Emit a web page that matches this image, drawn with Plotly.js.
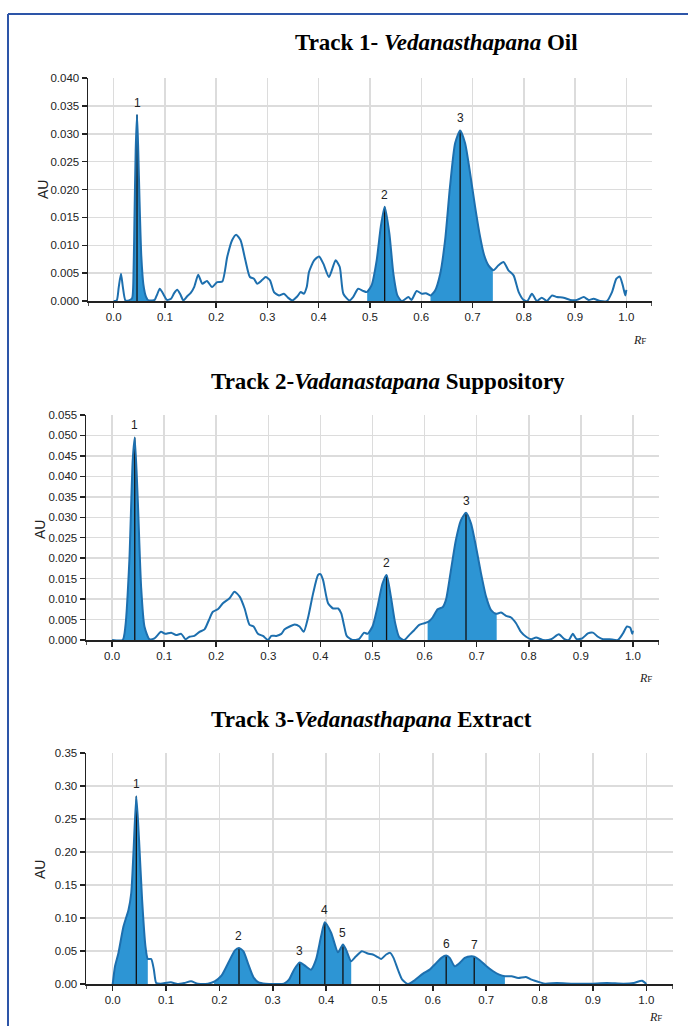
<!DOCTYPE html>
<html><head><meta charset="utf-8">
<script src="https://cdn.plot.ly/plotly-3.0.1.min.js"></script>
<style>html,body{margin:0;padding:0;background:#fff;}#chart{width:688px;height:1026px;}</style>
</head><body><div id="chart"></div>
<script>
// ---------- Track 1: Vedanasthapana Oil ----------
const rf1 = [0.000,0.006,0.010,0.0143,0.018,0.023,0.030,0.036,0.039,0.0405,0.043,0.0456,0.048,0.0505,0.054,0.058,0.063,0.068,0.075,0.080,0.085,0.090,0.096,0.104,0.112,0.118,0.124,0.130,0.136,0.143,0.150,0.157,0.165,0.173,0.182,0.192,0.202,0.212,0.2215,0.231,0.239,0.2476,0.257,0.2658,0.2736,0.280,0.290,0.2964,0.305,0.3127,0.3225,0.332,0.340,0.3485,0.358,0.365,0.371,0.3766,0.381,0.391,0.4007,0.409,0.420,0.433,0.441,0.448,0.460,0.467,0.477,0.487,0.4935,0.503,0.513,0.521,0.5286,0.5378,0.5456,0.5534,0.562,0.575,0.581,0.591,0.601,0.609,0.618,0.627,0.637,0.6465,0.656,0.666,0.6758,0.6855,0.6953,0.705,0.7148,0.7227,0.731,0.741,0.7506,0.7604,0.770,0.780,0.790,0.7995,0.807,0.8158,0.8255,0.835,0.845,0.855,0.8646,0.8776,0.8906,0.9036,0.917,0.9264,0.936,0.949,0.962,0.972,0.9805,0.987,0.993,0.998,1.000];
const au1 = [0,0.0001,0.0025,0.0049,0.0025,0.0001,0.0001,0.0005,0.006,0.014,0.027,0.0334,0.027,0.018,0.008,0.003,0.0008,0.0001,0.0001,0.0002,0.0012,0.0022,0.0014,0.0002,0.0004,0.0014,0.002,0.0012,0.0001,0.0008,0.0014,0.0025,0.0047,0.0031,0.0036,0.0025,0.0034,0.0035,0.0079,0.0109,0.0119,0.0109,0.0073,0.0043,0.004,0.0031,0.0038,0.0043,0.0037,0.0016,0.001,0.0013,0.0006,0.0001,0.0008,0.0016,0.0013,0.0025,0.0052,0.0073,0.008,0.0067,0.0043,0.0073,0.0061,0.0013,0.0001,0.0007,0.0022,0.0018,0.0016,0.0028,0.0073,0.0133,0.0169,0.0121,0.0049,0.001,0,0.0007,0.0002,0.0018,0.0013,0.0014,0.001,0.0019,0.0049,0.0109,0.0205,0.0283,0.0306,0.0283,0.0229,0.0169,0.0115,0.0082,0.0064,0.0055,0.0064,0.007,0.0055,0.0046,0.0016,0.0002,0,0.0013,0,0.0006,0,0.001,0.0007,0.0006,0.0002,0.0002,0.0007,0.0002,0.0004,0,0,0.0016,0.004,0.0044,0.0028,0.001,0.002];
const peaks1 = [0.0456,0.5286,0.6758];
const peakLabels1 = ['1','2','3'];
const fills1 = [[0.034,0.066],[0.4945,0.562],[0.618,0.7396]];

// ---------- Track 2: Vadanastapana Suppository ----------
const rf2 = [0,0.0205,0.0256,0.0333,0.0397,0.0436,0.0494,0.0558,0.0622,0.0718,0.0814,0.094,0.1019,0.1135,0.123,0.1327,0.141,0.1487,0.158,0.168,0.1776,0.186,0.1936,0.203,0.2128,0.2256,0.235,0.245,0.2545,0.264,0.2718,0.280,0.2897,0.2994,0.3058,0.3154,0.325,0.3314,0.341,0.3506,0.360,0.368,0.376,0.386,0.3955,0.400,0.405,0.4147,0.4244,0.434,0.440,0.4455,0.4505,0.4615,0.474,0.484,0.4904,0.500,0.5096,0.5192,0.527,0.5353,0.5436,0.5513,0.561,0.5705,0.580,0.5897,0.5994,0.6077,0.6154,0.625,0.6346,0.641,0.6506,0.660,0.6699,0.6795,0.6891,0.6987,0.7083,0.718,0.7276,0.737,0.7468,0.7564,0.766,0.7756,0.785,0.7949,0.8045,0.814,0.827,0.843,0.8577,0.8686,0.877,0.8846,0.892,0.9026,0.9135,0.923,0.9327,0.9423,0.955,0.9712,0.9808,0.9885,0.9949,0.9987,1.0];
const au2 = [0,0,0.0033,0.0196,0.044,0.0495,0.0342,0.013,0.0033,0.0002,0.0004,0.002,0.0015,0.0018,0.0012,0.0015,0.0002,0.0008,0.001,0.002,0.0026,0.0049,0.0069,0.0075,0.009,0.0102,0.0118,0.0106,0.0077,0.0037,0.0033,0.0015,0.001,0,0.001,0.001,0.0015,0.0026,0.0033,0.0038,0.0033,0.002,0.0053,0.0114,0.0159,0.0161,0.0147,0.009,0.0077,0.0077,0.0065,0.0035,0.001,0,0.0002,0.0018,0.0015,0.0033,0.0081,0.0138,0.0159,0.0106,0.0041,0.0007,0,0.0012,0.0024,0.0037,0.0041,0.0045,0.0055,0.0075,0.008,0.0098,0.0171,0.0244,0.0293,0.0311,0.0285,0.0228,0.0163,0.0106,0.0073,0.0064,0.0067,0.0059,0.0055,0.0041,0.002,0.0008,0.0002,0.0006,0,0.0002,0.0014,0.0002,0,0.0015,0.0002,0.0004,0.0016,0.0018,0.0008,0.0002,0.0002,0,0.0016,0.0033,0.003,0.0015,0.0023];
const peaks2 = [0.0436,0.527,0.6795];
const peakLabels2 = ['1','2','3'];
const fills2 = [[0.0205,0.072],[0.4923,0.558],[0.6058,0.7384]];

// ---------- Track 3: Vedanasthapana Extract ----------
const rf3 = [0,0.0044,0.0108,0.0203,0.0297,0.0348,0.0392,0.0443,0.0494,0.0551,0.0614,0.0658,0.0722,0.0772,0.0816,0.0899,0.1089,0.1215,0.1342,0.1468,0.1595,0.1785,0.1911,0.2038,0.2165,0.2291,0.2367,0.245,0.2544,0.2639,0.2734,0.2861,0.3051,0.3209,0.3304,0.3399,0.3505,0.362,0.3715,0.381,0.3905,0.3975,0.4095,0.4222,0.4315,0.4373,0.4467,0.456,0.467,0.478,0.4875,0.497,0.5031,0.5125,0.520,0.5263,0.5345,0.5426,0.5533,0.5658,0.5815,0.594,0.6065,0.616,0.625,0.6316,0.641,0.6504,0.6598,0.6723,0.6775,0.688,0.7005,0.713,0.7243,0.735,0.7475,0.760,0.7744,0.785,0.8008,0.8102,0.8321,0.8634,0.8947,0.926,0.9574,0.9762,0.992,1.0];
const au3 = [0,0.0268,0.047,0.0874,0.1126,0.1379,0.2035,0.2843,0.2187,0.1278,0.057,0.0379,0.0379,0.0217,0.0015,0.0005,0.0025,0,0.0015,0.004,0.0005,0.0005,0.004,0.0126,0.0318,0.051,0.0545,0.0495,0.0293,0.0101,0.0025,0.0005,0,0.0005,0.0066,0.0217,0.0325,0.0268,0.0217,0.0369,0.0722,0.0935,0.0773,0.048,0.0598,0.052,0.0345,0.042,0.0497,0.0462,0.0447,0.0406,0.038,0.0447,0.0472,0.0396,0.0218,0.0066,0,0.0056,0.0157,0.0218,0.032,0.0396,0.0431,0.0396,0.0269,0.032,0.0396,0.0421,0.0415,0.036,0.0269,0.0193,0.0142,0.0117,0.0117,0.0091,0.0107,0.0066,0.0025,0.0005,0.0015,0.0005,0.0005,0.0015,0.0005,0.0015,0.005,0];
const peaks3 = [0.0443,0.2367,0.3505,0.3975,0.4315,0.625,0.6775];
const peakLabels3 = ['1','2','3','4','5','6','7'];
const fills3 = [[0,0.0658],[0.19,0.2766],[0.3228,0.447],[0.553,0.735]];

// ---------- titles / ticks ----------
const titles = ['<b>Track 1- <i>Vedanasthapana</i> Oil</b>','<b>Track 2-<i>Vadanastapana</i> Suppository</b>','<b>Track 3-<i>Vedanasthapana</i> Extract</b>'];
const xTicks = [0,0.1,0.2,0.3,0.4,0.5,0.6,0.7,0.8,0.9,1.0];

// ---------- helpers ----------
function interp(xs, ys, x){
  if (x <= xs[0]) return ys[0];
  for (let i=1;i<xs.length;i++){
    if (x <= xs[i]){ const t=(x-xs[i-1])/(xs[i]-xs[i-1]); return ys[i-1]+t*(ys[i]-ys[i-1]); }
  }
  return ys[ys.length-1];
}
function segment(xs, ys, a, b){
  const sx=[a], sy=[interp(xs,ys,a)];
  for (let i=0;i<xs.length;i++){ if (xs[i]>a && xs[i]<b){ sx.push(xs[i]); sy.push(ys[i]); } }
  sx.push(b); sy.push(interp(xs,ys,b));
  return [sx, sy];
}

const W=688, H=1026;
const panels = [
  {rf:rf1, au:au1, peaks:peaks1, labels:peakLabels1, fills:fills1, xpx:[88,652], ypx:[78,301], yr:[0,0.04], dt:0.005, fmt:'.3f', title:[436,42], au_lbl:[43,190], rfl:[639,340]},
  {rf:rf2, au:au2, peaks:peaks2, labels:peakLabels2, fills:fills2, xpx:[86,659], ypx:[415,640], yr:[0,0.055], dt:0.005, fmt:'.3f', title:[388,381], au_lbl:[40,530], rfl:[645,678]},
  {rf:rf3, au:au3, peaks:peaks3, labels:peakLabels3, fills:fills3, xpx:[86,673], ypx:[753,984], yr:[0,0.35], dt:0.05, fmt:'.2f', title:[371,719], au_lbl:[40,870], rfl:[655,1017]}
];

const lineColor = '#1d6fae';
const fillColor = '#2d95d4';
const traces = [];
const annotations = [];
const shapes = [];
const layout = {
  width: W, height: H,
  margin: {l:0, r:0, t:0, b:0},
  paper_bgcolor: '#ffffff', plot_bgcolor: '#ffffff',
  showlegend: false,
  font: {family: 'Liberation Sans, Arial, sans-serif', size: 11, color: '#222'}
};

panels.forEach((p, k) => {
  const n = k===0 ? '' : String(k+1);
  const xa = 'x'+n, ya = 'y'+n;
  layout['xaxis'+n] = {
    domain: [p.xpx[0]/W, p.xpx[1]/W], anchor: ya, range: [-0.05, 1.05],
    tickvals: xTicks, tickformat: '.1f', ticks: 'outside', ticklen: 5, tickwidth: 1.5, tickcolor: '#222',
    showline: true, linecolor: '#222', linewidth: 1.5, showgrid: true, gridcolor: '#dcdcdc', gridwidth: 1.5,
    zeroline: false, tickfont: {size: 11.5, color: '#222'}, fixedrange: true
  };
  layout['yaxis'+n] = {
    domain: [1 - p.ypx[1]/H, 1 - p.ypx[0]/H], anchor: xa, range: p.yr, dtick: p.dt, tick0: 0,
    tickformat: p.fmt, ticks: 'outside', ticklen: 5, tickwidth: 1.5, tickcolor: '#222',
    showline: true, linecolor: '#222', linewidth: 1.5, showgrid: true, gridcolor: '#dcdcdc', gridwidth: 1.5,
    zeroline: false, tickfont: {size: 11.5, color: '#222'}, fixedrange: true
  };
  p.fills.forEach(f => {
    const [sx, sy] = segment(p.rf, p.au, f[0], f[1]);
    traces.push({x: sx, y: sy, xaxis: xa, yaxis: ya, type: 'scatter', mode: 'lines', fill: 'tozeroy',
      fillcolor: fillColor, line: {width: 0, color: fillColor, shape: 'spline', smoothing: 0.6}, hoverinfo: 'skip'});
  });
  p.peaks.forEach((pk, i) => {
    const h = interp(p.rf, p.au, pk);
    traces.push({x: [pk, pk], y: [0, h], xaxis: xa, yaxis: ya, type: 'scatter', mode: 'lines',
      line: {color: '#111', width: 1.3}, hoverinfo: 'skip'});
    annotations.push({x: pk, y: h, xref: xa, yref: ya, text: p.labels[i], showarrow: false,
      yanchor: 'bottom', yshift: 3, font: {size: 12, color: '#222', family: 'Liberation Sans, Arial, sans-serif'}});
  });
  traces.push({x: p.rf, y: p.au, xaxis: xa, yaxis: ya, type: 'scatter', mode: 'lines',
    line: {color: lineColor, width: 2, shape: 'spline', smoothing: 0.6}, hoverinfo: 'skip'});
  annotations.push({x: p.title[0]/W, y: 1 - p.title[1]/H, xref: 'paper', yref: 'paper', text: titles[k],
    showarrow: false, xanchor: 'center', yanchor: 'middle',
    font: {family: 'Liberation Serif, Times New Roman, serif', size: 23, color: '#000'}});
  annotations.push({x: p.au_lbl[0]/W, y: 1 - p.au_lbl[1]/H, xref: 'paper', yref: 'paper', text: 'AU',
    textangle: -90, showarrow: false, xanchor: 'center', yanchor: 'middle',
    font: {family: 'Liberation Sans, Arial, sans-serif', size: 14, color: '#222'}});
  annotations.push({x: p.rfl[0]/W, y: 1 - p.rfl[1]/H, xref: 'paper', yref: 'paper', text: '<i>R</i><span style="font-size:9px">F</span>',
    showarrow: false, xanchor: 'center', yanchor: 'middle',
    font: {family: 'Liberation Serif, Times New Roman, serif', size: 12, color: '#222'}});
  const yb = 1 - p.ypx[1]/H;
  [-0.05, 1.05].forEach(ev => {
    shapes.push({type: 'line', xref: xa, yref: 'paper', x0: ev, x1: ev, y0: yb, y1: yb - 5/H,
      line: {color: '#222', width: 1.5}});
  });
});

shapes.push({type: 'line', xref: 'paper', yref: 'paper', x0: 8/W, x1: 1, y0: 1 - 14/H, y1: 1 - 14/H, line: {color: '#2d55a8', width: 2}});
shapes.push({type: 'line', xref: 'paper', yref: 'paper', x0: 8/W, x1: 8/W, y0: 1 - 14/H, y1: 0, line: {color: '#2d55a8', width: 2}});

layout.annotations = annotations;
layout.shapes = shapes;

Plotly.newPlot('chart', traces, layout, {displayModeBar: false, staticPlot: true});
</script>
</body></html>
